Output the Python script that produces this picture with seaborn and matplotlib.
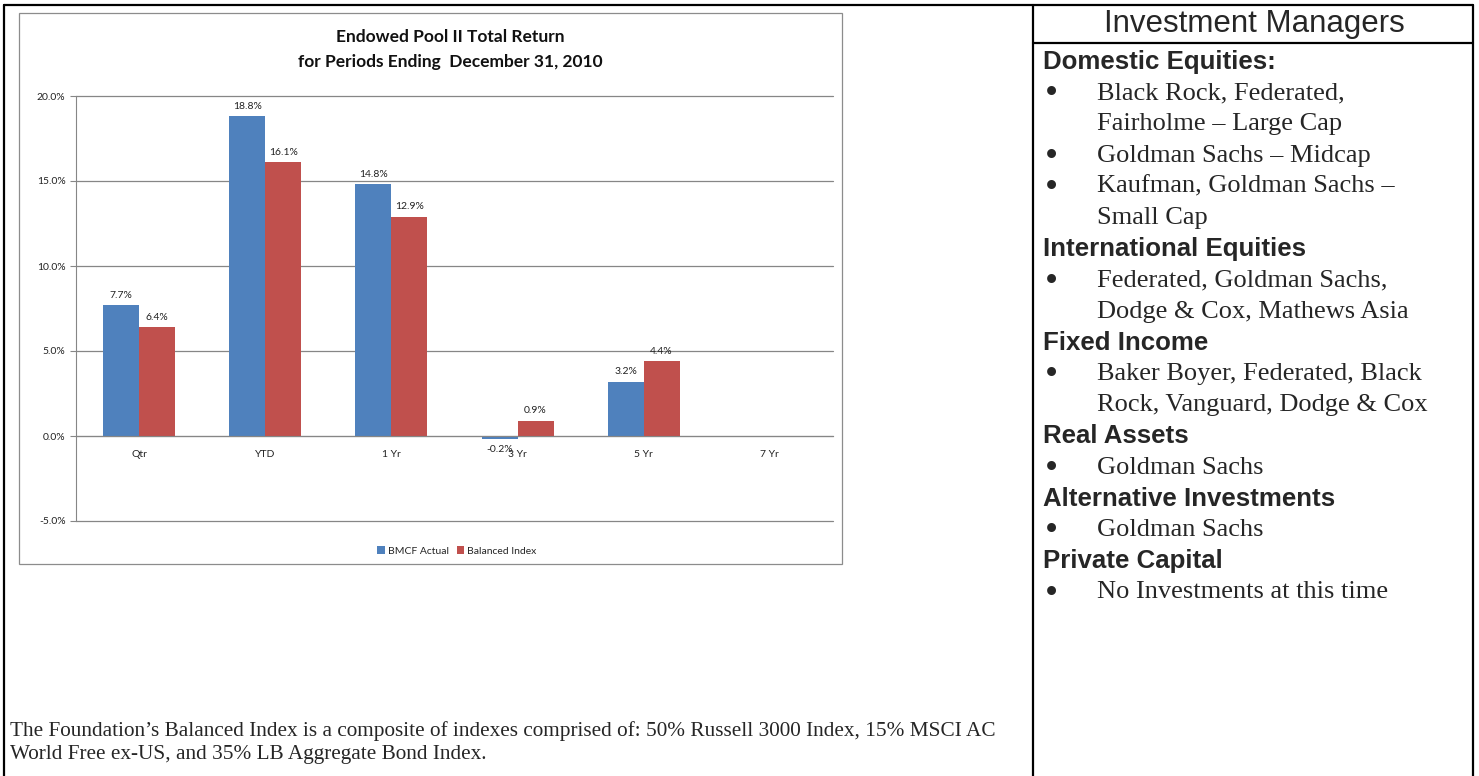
import numpy as np
import pandas as pd
import matplotlib
matplotlib.use("Agg")
import matplotlib.pyplot as plt
import seaborn as sns
from matplotlib.lines import Line2D
from matplotlib.patches import Rectangle
from matplotlib.ticker import FuncFormatter

# Chart data
periods = ["Qtr", "YTD", "1 Yr", "3 Yr", "5 Yr", "7 Yr"]
bmcf_actual = [7.7, 18.8, 14.8, -0.2, 3.2, np.nan]
balanced_index = [6.4, 16.1, 12.9, 0.9, 4.4, np.nan]
series_names = ["BMCF Actual", "Balanced Index"]
y_ticks = [-5, 0, 5, 10, 15, 20]

# Side panel text
panel_title = "Investment Managers"
panel_lines = [
    ("h", "Domestic Equities:"),
    ("b", "Black Rock, Federated,"),
    ("c", "Fairholme \u2013 Large Cap"),
    ("b", "Goldman Sachs \u2013 Midcap"),
    ("b", "Kaufman, Goldman Sachs \u2013"),
    ("c", "Small Cap"),
    ("h", "International Equities"),
    ("b", "Federated, Goldman Sachs,"),
    ("c", "Dodge & Cox, Mathews Asia"),
    ("h", "Fixed Income"),
    ("b", "Baker Boyer, Federated, Black"),
    ("c", "Rock, Vanguard, Dodge & Cox"),
    ("h", "Real Assets"),
    ("b", "Goldman Sachs"),
    ("h", "Alternative Investments"),
    ("b", "Goldman Sachs"),
    ("h", "Private Capital"),
    ("b", "No Investments at this time"),
]
footnote = ["The Foundation\u2019s Balanced Index is a composite of indexes comprised of: 50% Russell 3000 Index, 15% MSCI AC",
            "World Free ex-US, and 35% LB Aggregate Bond Index."]

df = pd.DataFrame({
    "Period": periods * 2,
    "Return": bmcf_actual + balanced_index,
    "Series": [series_names[0]] * len(periods) + [series_names[1]] * len(periods),
})

sns.set_style("white")
plt.rcParams['font.family'] = ['Lato', 'DejaVu Sans']

W, H = 1479, 776
fig = plt.figure(figsize=(W / 100, H / 100), dpi=100)


def fx(x):
    return x / W


def fy(y):
    return 1 - y / H


grey = "#868686"

# chart area frame
fig.add_artist(Rectangle((fx(19), fy(564)), fx(842) - fx(19), fy(13) - fy(564),
                         transform=fig.transFigure, fill=False, edgecolor="#8c8c8c", lw=0.9))

ax = fig.add_axes([fx(76), fy(521), fx(833) - fx(76), fy(96) - fy(521)])
sns.barplot(data=df, x="Period", y="Return", hue="Series", order=periods,
            hue_order=series_names, palette=["#4F81BD", "#C0504D"], width=0.57,
            gap=0, saturation=1, linewidth=0, errorbar=None, ax=ax)

ax.set_xlim(-0.5, len(periods) - 0.5)
ax.set_ylim(-5, 20)
ax.set_yticks(y_ticks)
ax.yaxis.set_major_formatter(FuncFormatter(lambda v, _: f"{v:.1f}%"))
ax.set_xlabel("")
ax.set_ylabel("")
ax.grid(axis="y", color=grey, lw=0.9)
for gl in ax.get_ygridlines():
    gl.set_clip_on(False)
ax.set_axisbelow(True)
for s in ["top", "right"]:
    ax.spines[s].set_visible(False)
ax.spines["bottom"].set_position(("data", 0))
ax.spines["bottom"].set_color(grey)
ax.spines["left"].set_color(grey)
ax.set_xticks(np.arange(-0.5, len(periods), 1), minor=True)
ax.tick_params(axis="x", which="major", length=0, pad=10, labelsize=7.5, colors="#222222")
ax.tick_params(axis="x", which="minor", length=4, color=grey, direction="out")
ax.tick_params(axis="y", length=4, color=grey, direction="out", labelsize=7.5,
               labelcolor="#222222", left=True)

for c in ax.containers:
    labels = ["" if np.isnan(v) else f"{v:.1f}%" for v in c.datavalues]
    ax.bar_label(c, labels=labels, padding=4, fontsize=7.5, color="#222222")

sns.move_legend(ax, loc="center", bbox_to_anchor=(fx(457), fy(551)),
                bbox_transform=fig.transFigure, ncol=2, frameon=False, title=None,
                fontsize=7.5, handlelength=0.7, handleheight=0.7,
                handletextpad=0.3, columnspacing=0.8)

fig.text(fx(450), fy(37), "Endowed Pool II Total Return", ha="center", va="center",
         fontsize=12.5, fontweight="bold", color="#111111")
fig.text(fx(450), fy(62), "for Periods Ending  December 31, 2010", ha="center", va="center",
         fontsize=12.5, fontweight="bold", color="#111111")

# table borders
lw = 1.6
for xs, ys in [([4, 1473], [5, 5]), ([4, 4], [5, 776]), ([1033, 1033], [5, 776]),
               ([1473, 1473], [5, 776]), ([1033, 1473], [43, 43])]:
    fig.add_artist(Line2D([fx(x) for x in xs], [fy(y) for y in ys],
                          transform=fig.transFigure, color="black", lw=lw))

fig.text(fx(1254), fy(24), panel_title, ha="center", va="center",
         fontsize=22.5, family="Liberation Sans")

y = 62
for kind, text in panel_lines:
    if kind == "h":
        fig.text(fx(1043), fy(y), text, ha="left", va="center", fontsize=18.6,
                 fontweight="bold", family="Liberation Sans")
    else:
        if kind == "b":
            fig.text(fx(1051), fy(y + 2), "\u2022", ha="center", va="center", fontsize=27,
                     family="Liberation Serif")
        fig.text(fx(1097), fy(y), text, ha="left", va="center", fontsize=19,
                 family="Liberation Serif")
    y += 31.2

for i, line in enumerate(footnote):
    fig.text(fx(10), fy(731 + 23 * i), line, ha="left", va="center", fontsize=15.35,
             family="Liberation Serif")

fig.savefig("out.png", dpi=100)
